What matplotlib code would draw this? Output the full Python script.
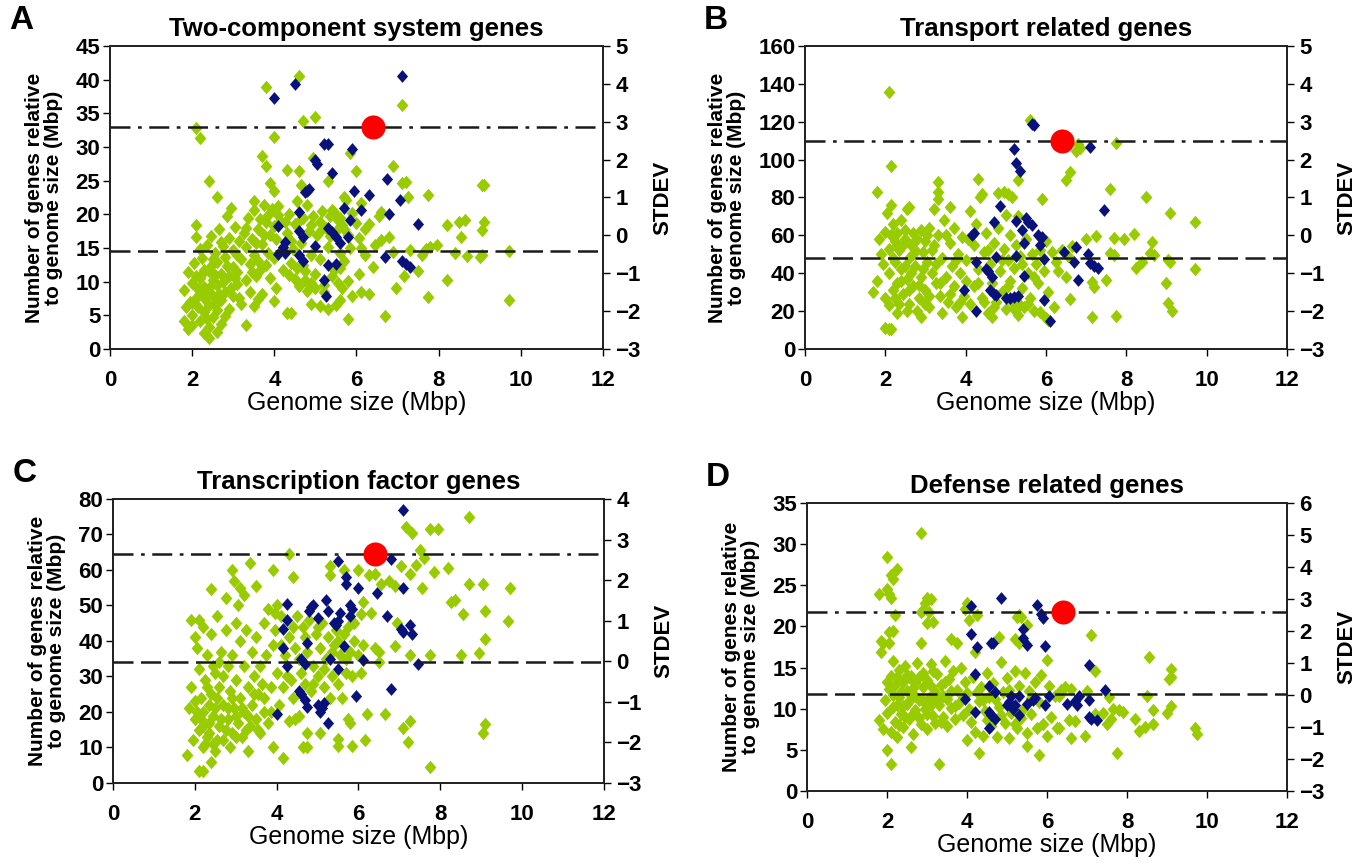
import matplotlib
matplotlib.use('Agg')
import matplotlib.pyplot as plt

plt.rcParams['font.family'] = ['Liberation Sans', 'DejaVu Sans']

GREEN = '#99cc00'
BLUE = '#08127a'
DIAMOND = [(-0.87, 0), (0, 1), (0.87, 0), (0, -1), (-0.87, 0)]  # slightly tall diamond

# ---------------- panel A: two-component system genes ----------------
a_green = [
    (4.6, 40.6), (3.8, 38.9), (7.1, 36.2), (5.0, 34.5), (4.7, 33.8), (2.1, 32.8), (2.2, 31.4), (4.0, 31.5),
    (3.7, 28.6), (5.85, 29.1), (4.95, 28.3), (3.8, 27.2), (6.9, 27.2), (4.3, 26.6), (4.6, 26.4), (6.0, 26.4),
    (2.4, 25.0), (5.3, 25.0), (7.1, 24.7), (7.2, 24.8), (9.1, 24.3), (9.05, 24.3), (3.9, 24.6), (4.0, 23.5),
    (4.65, 24.3), (5.7, 22.5), (2.6, 22.6), (7.75, 22.9), (7.25, 22.6), (3.5, 22.0), (8.2, 18.4), (8.5, 18.8),
    (8.65, 19.1), (9.1, 18.9), (9.05, 17.6), (8.55, 16.6), (9.7, 14.5), (9.05, 14.0), (9.0, 13.6), (8.7, 13.8),
    (8.4, 14.3), (7.8, 15.2), (7.95, 15.4), (7.7, 14.8), (7.6, 14.0), (7.3, 14.7), (7.15, 10.9), (7.5, 11.6),
    (6.95, 9.0), (8.2, 10.3), (7.75, 7.7), (9.7, 7.3), (6.7, 4.9), (5.8, 4.4), (6.3, 8.2), (6.1, 8.5),
    (5.9, 7.8), (6.45, 15.4), (6.6, 16.2), (6.55, 19.7), (6.6, 20.3), (6.8, 16.6), (6.9, 14.4), (6.3, 18.6),
    (6.2, 13.9), (6.4, 12.1), (6.05, 11.2), (5.7, 13.1), (5.6, 14.3), (6.1, 15.0), (5.8, 10.1), (5.65, 9.0),
    (5.5, 6.6), (5.6, 7.2), (5.3, 5.9), (4.4, 5.3), (4.3, 5.3), (4.9, 6.7), (5.1, 6.4), (4.0, 7.1),
    (3.6, 7.4), (3.3, 3.5), (2.4, 1.6), (2.3, 2.4), (2.6, 2.5), (1.9, 2.9), (1.8, 4.1), (2.0, 3.6),
    (1.8, 8.8), (1.9, 11.5), (1.95, 7.0), (2.0, 5.0), (2.0, 9.8), (2.05, 12.8), (2.1, 16.7), (2.1, 18.4),
    (2.15, 6.2), (2.2, 4.2), (2.2, 8.3), (2.2, 10.6), (2.25, 13.5), (2.3, 5.5), (2.3, 7.5), (2.3, 11.8),
    (2.35, 15.5), (2.4, 3.2), (2.4, 6.5), (2.4, 9.0), (2.45, 12.3), (2.45, 16.8), (2.5, 4.7), (2.5, 7.8),
    (2.5, 10.2), (2.55, 14.2), (2.6, 5.8), (2.6, 9.5), (2.6, 12.9), (2.65, 17.8), (2.7, 3.7), (2.7, 7.2),
    (2.7, 11.1), (2.75, 15.3), (2.8, 4.9), (2.8, 8.5), (2.8, 13.6), (2.85, 19.8), (2.9, 6.0), (2.9, 10.8),
    (2.9, 16.5), (2.95, 21.0), (3.0, 7.9), (3.0, 12.2), (3.0, 14.7), (3.05, 18.1), (3.1, 9.6), (3.1, 11.5),
    (3.15, 16.0), (3.2, 6.7), (3.2, 13.3), (3.25, 17.2), (3.3, 10.3), (3.3, 15.1), (3.35, 19.5), (3.4, 8.4),
    (3.4, 12.6), (3.45, 16.4), (3.5, 6.4), (3.5, 14.0), (3.5, 20.6), (3.55, 10.9), (3.6, 17.8), (3.6, 13.0),
    (3.65, 19.3), (3.7, 8.2), (3.7, 15.6), (3.75, 21.4), (3.8, 18.8), (3.8, 12.4), (3.85, 19.9), (3.9, 10.5),
    (3.9, 16.9), (3.95, 20.8), (4.0, 13.5), (4.0, 18.2), (4.05, 9.0), (4.1, 21.3), (4.15, 19.0), (4.2, 11.8),
    (4.3, 17.2), (4.35, 20.0), (4.4, 12.7), (4.45, 14.8), (4.5, 10.4), (4.5, 18.5), (4.55, 22.0), (4.6, 9.3),
    (4.65, 15.7), (4.7, 19.4), (4.75, 11.6), (4.8, 21.4), (4.85, 17.5), (4.9, 9.8), (4.9, 13.9), (4.95, 19.7),
    (5.0, 11.2), (5.05, 16.9), (5.1, 18.9), (5.1, 13.3), (5.15, 20.5), (5.2, 9.5), (5.25, 18.0), (5.3, 15.2),
    (5.35, 19.8), (5.4, 20.6), (5.45, 11.8), (5.5, 17.5), (5.55, 19.2), (5.6, 12.0), (5.65, 18.4), (5.75, 22.1),
    (5.8, 17.0), (5.85, 15.0), (5.9, 20.2), (6.0, 18.7), (6.05, 16.5), (6.1, 21.7), (6.2, 17.8), (5.2, 8.5),
    (4.8, 8.6), (4.7, 12.5), (2.1, 7.6), (2.35, 8.8), (2.55, 6.5), (2.25, 11.2), (2.75, 9.9), (3.05, 10.6),
    (2.0, 6.8), (2.1, 10.9), (2.2, 14.9), (2.3, 9.2), (2.35, 4.5), (2.5, 13.4), (2.55, 11.0), (2.65, 8.1),
    (2.7, 15.9), (2.85, 12.3), (2.95, 9.0), (3.1, 14.0), (3.15, 7.6), (3.3, 17.9), (3.45, 11.4), (3.55, 15.7),
    (3.65, 11.8), (3.75, 17.0), (3.85, 14.3), (4.05, 16.4), (4.1, 19.9), (4.25, 18.8), (4.4, 16.0), (4.6, 19.0),
    (4.9, 18.4), (5.15, 17.8), (5.35, 16.8), (5.45, 20.3), (5.6, 19.5), (5.7, 17.8), (4.35, 11.0), (4.55, 12.0),
    (4.75, 10.2), (5.0, 9.0), (5.4, 10.8), (5.55, 9.8), (2.15, 8.9), (2.4, 11.6), (2.6, 7.3), (1.85, 6.2),
]
a_blue = [
    (4.0, 37.3), (4.5, 39.3), (7.1, 40.6), (5.2, 30.5), (5.3, 30.5), (5.0, 28.0), (5.05, 27.5), (5.9, 29.7),
    (5.4, 26.1), (6.75, 25.2), (4.8, 23.5), (4.75, 23.3), (4.85, 23.8), (5.95, 23.4), (6.3, 22.8), (7.05, 22.1),
    (5.7, 20.9), (6.1, 20.7), (4.6, 20.4), (6.8, 20.1), (5.85, 19.1), (7.5, 18.6), (4.1, 18.3), (5.3, 17.9),
    (5.4, 17.4), (4.6, 17.5), (4.7, 16.6), (5.5, 16.6), (5.8, 16.6), (4.25, 15.9), (5.6, 15.8), (4.2, 15.1),
    (5.0, 15.3), (4.1, 14.1), (4.25, 14.2), (4.6, 13.9), (6.7, 13.7), (7.1, 13.1), (7.2, 12.6), (7.3, 12.2),
    (4.7, 13.0), (5.3, 12.5), (5.5, 12.6), (5.2, 10.2), (5.25, 7.9),
]
a_ref = (6.4, 33.0)
a_mean, a_high = 14.5, 33.0

# ---------------- panel B: transport related genes ----------------
b_green = [
    (2.1, 135.5), (5.6, 121), (6.85, 106), (6.8, 108), (6.75, 104.5), (7.75, 109), (2.15, 96.5), (6.6, 93.5),
    (6.5, 89), (5.3, 89), (3.3, 88), (4.3, 90), (7.6, 84.5), (1.8, 83), (8.5, 80), (5.9, 79),
    (4.4, 82), (4.8, 82.5), (4.95, 83), (5.05, 82), (5.15, 80.5), (9.1, 72), (9.7, 67), (8.2, 60.5),
    (7.95, 58), (7.7, 58.5), (7.25, 59.5), (7.0, 58), (6.65, 54.5), (7.6, 50.5), (7.7, 49.5), (8.65, 56.5),
    (8.6, 50.5), (8.7, 49.5), (8.4, 46), (8.25, 43), (9.05, 47), (9.1, 46), (9.7, 42), (9.0, 35),
    (9.05, 24.5), (9.15, 20), (7.75, 17.5), (7.15, 17), (7.15, 35.5), (7.2, 32.5), (7.5, 36.5), (6.6, 26.5),
    (6.2, 22), (6.0, 16.5), (6.05, 15.5), (2.0, 11), (2.1, 10.5), (2.15, 10.5), (5.85, 19.5), (5.35, 23),
    (1.7, 30), (1.8, 36), (1.85, 58), (1.9, 50), (1.95, 45), (2.0, 62), (2.0, 27), (2.05, 72),
    (2.1, 53), (2.1, 40), (2.1, 23), (2.15, 76), (2.2, 66), (2.2, 31), (2.25, 57), (2.25, 46),
    (2.3, 61), (2.3, 35), (2.3, 19), (2.35, 52), (2.4, 68), (2.4, 42), (2.45, 29), (2.5, 58),
    (2.5, 63), (2.55, 74), (2.55, 37), (2.6, 48), (2.6, 24), (2.65, 55), (2.7, 61), (2.7, 33),
    (2.75, 44), (2.8, 58), (2.8, 20), (2.85, 27), (2.9, 63), (2.9, 38), (2.95, 51), (3.0, 57),
    (3.0, 31), (3.05, 46), (3.1, 64), (3.1, 22), (3.15, 40), (3.2, 55), (3.2, 74), (3.25, 35),
    (3.3, 83), (3.3, 79), (3.3, 60), (3.35, 28), (3.4, 48), (3.45, 68), (3.5, 38), (3.55, 25),
    (3.6, 56), (3.6, 75), (3.65, 44), (3.7, 33), (3.7, 64), (3.75, 22), (3.8, 50), (3.85, 40),
    (3.9, 17), (3.9, 59), (3.95, 28), (4.0, 47), (4.0, 36), (4.1, 73), (4.1, 24), (4.2, 55),
    (4.2, 33), (4.25, 66), (4.3, 42), (4.35, 80), (4.4, 27), (4.45, 51), (4.5, 61), (4.55, 19),
    (4.6, 45), (4.65, 35), (4.65, 17), (4.7, 56), (4.75, 25), (4.8, 64), (4.85, 41), (4.9, 30),
    (4.95, 53), (5.0, 71), (5.0, 21), (5.05, 47), (5.1, 36), (5.1, 60), (5.15, 25), (5.2, 43),
    (5.25, 55), (5.3, 70), (5.3, 18), (5.35, 49), (5.4, 32), (5.45, 22), (5.5, 58), (5.55, 40),
    (5.6, 27), (5.65, 50), (5.7, 20), (5.75, 45), (5.8, 35), (5.85, 52), (5.95, 41), (6.0, 57),
    (6.05, 30), (6.15, 51), (6.25, 46), (6.3, 41), (6.4, 52), (6.5, 38), (6.55, 49), (2.6, 75),
    (2.9, 17), (3.4, 19), (2.35, 24), (2.2, 48), (2.45, 55), (2.75, 52), (3.05, 60), (2.65, 40),
    (2.15, 60), (2.3, 55), (2.4, 36), (2.5, 44), (2.6, 31), (2.7, 50), (2.85, 34), (2.95, 42),
    (3.1, 28), (3.15, 52), (3.25, 45), (3.35, 35), (3.5, 60), (3.6, 29), (3.75, 47), (3.85, 25),
    (4.05, 58), (4.3, 35), (4.45, 25), (4.55, 52), (4.7, 22), (4.9, 47), (5.05, 33), (5.2, 21),
    (5.4, 45), (5.55, 24), (5.7, 38), (2.25, 27), (2.55, 20), (3.0, 24),
]
b_blue = [
    (5.65, 119), (5.7, 118.5), (7.1, 106.5), (5.2, 105.5), (5.25, 98), (5.35, 94), (4.85, 75.5), (7.45, 73.5),
    (4.7, 67), (5.25, 67.5), (5.5, 69), (5.55, 67), (5.65, 65.5), (5.4, 63), (4.15, 60), (4.2, 61),
    (5.8, 60), (5.9, 59), (5.45, 56), (5.85, 55), (6.75, 54), (6.45, 51), (7.05, 50), (5.25, 49),
    (4.75, 48.5), (5.95, 47.5), (4.25, 46), (7.1, 45.5), (6.7, 46), (7.2, 44), (7.3, 42.5), (4.5, 42),
    (4.55, 41), (4.65, 38), (5.45, 38.5), (6.8, 36.5), (3.95, 31), (4.6, 31), (4.7, 29), (4.75, 28.5),
    (5.0, 27), (5.1, 27), (5.2, 27.5), (5.3, 28), (5.95, 26), (4.25, 20), (6.1, 15),
]
b_ref = (6.4, 110.0)
b_mean, b_high = 48.0, 110.0

# ---------------- panel C: transcription factor genes ----------------
c_green = [
    (8.7, 75), (7.15, 72), (7.75, 71.5), (7.95, 71.5), (7.3, 70.5), (7.5, 65.5), (7.6, 63.5), (7.05, 61),
    (7.4, 61.5), (8.2, 60.5), (7.85, 59.5), (7.25, 59), (8.7, 56), (9.05, 56), (9.7, 55), (7.55, 55),
    (8.35, 51.5), (8.25, 51), (8.55, 47.5), (9.1, 48.5), (9.65, 45.5), (6.95, 45), (9.1, 40.5), (7.25, 36),
    (7.75, 36), (8.5, 36), (8.95, 36.5), (6.9, 38.5), (6.4, 38), (6.5, 37), (6.5, 34), (9.1, 16.5),
    (9.05, 14), (7.75, 4.5), (7.2, 11.5), (7.25, 17.5), (7.1, 15.5), (6.65, 19.5), (6.2, 19.5), (6.15, 12),
    (5.85, 10.5), (5.5, 10.5), (5.5, 12.5), (5.75, 18), (5.8, 17), (4.75, 14), (5.05, 14), (4.65, 10),
    (4.75, 10), (4.15, 7), (4.3, 17.5), (4.45, 18), (3.3, 9), (2.1, 3.5), (2.2, 3.5), (2.4, 6),
    (4.3, 64.5), (5.3, 61), (5.3, 58.5), (5.65, 60), (6.0, 60), (2.9, 60), (3.35, 62), (3.9, 60),
    (4.4, 58), (2.95, 57), (3.1, 55), (3.5, 55.5), (2.4, 54.5), (2.75, 52), (3.2, 53), (3.05, 50),
    (6.4, 59), (6.55, 56), (6.75, 57), (6.9, 55.5), (6.25, 58.5), (6.1, 51), (6.05, 47.5), (5.9, 45),
    (6.3, 48), (1.8, 8), (1.85, 21), (1.9, 27), (1.9, 46), (1.95, 12), (2.0, 41), (2.0, 18),
    (2.05, 38), (2.1, 15), (2.1, 32), (2.1, 46), (2.15, 24), (2.2, 10), (2.2, 44), (2.2, 20),
    (2.25, 29), (2.3, 13), (2.3, 36), (2.35, 17), (2.4, 25), (2.4, 42), (2.45, 11), (2.5, 21),
    (2.5, 31), (2.55, 47), (2.6, 16), (2.6, 27), (2.65, 37), (2.7, 12), (2.7, 22), (2.75, 43),
    (2.8, 18), (2.8, 33), (2.85, 26), (2.9, 14), (2.9, 36), (2.95, 21), (3.0, 45), (3.0, 29),
    (3.05, 17), (3.1, 40), (3.1, 24), (3.15, 13), (3.2, 33), (3.2, 20), (3.25, 43), (3.3, 27),
    (3.35, 16), (3.4, 37), (3.4, 22), (3.45, 30), (3.5, 18), (3.5, 41), (3.55, 25), (3.6, 14),
    (3.6, 33), (3.65, 28), (3.7, 20), (3.7, 45), (3.75, 36), (3.8, 17), (3.8, 49), (3.85, 27),
    (3.9, 39), (3.9, 10), (3.95, 48), (4.0, 31), (4.0, 50), (4.05, 22), (4.1, 47), (4.15, 27),
    (4.2, 36), (4.3, 41), (4.35, 29), (4.4, 24), (4.45, 38), (4.5, 47), (4.55, 19), (4.6, 31),
    (4.65, 44), (4.7, 28), (4.75, 37), (4.8, 46), (4.85, 26), (4.9, 33), (4.95, 42), (5.0, 30),
    (5.05, 38), (5.1, 45), (5.15, 27), (5.2, 35), (5.25, 41), (5.3, 24), (5.35, 30), (5.4, 39),
    (5.45, 43), (5.5, 28), (5.55, 36), (5.6, 24), (5.65, 42), (5.7, 31), (5.75, 44), (5.8, 37),
    (5.85, 30), (5.9, 40), (6.0, 36), (6.05, 31), (6.1, 39), (2.05, 20), (2.3, 27), (2.6, 34),
    (2.45, 19), (2.7, 30), (2.15, 18), (2.35, 14), (2.55, 12), (3.0, 19), (3.25, 15), (2.85, 10),
    (2.0, 23), (2.2, 16), (2.35, 22), (2.45, 33), (2.55, 24), (2.65, 18), (2.75, 15), (2.9, 24),
    (3.0, 13), (3.15, 21), (3.3, 19), (3.45, 25), (3.55, 15), (3.7, 24), (3.85, 20), (3.95, 43),
    (4.1, 39), (4.25, 30), (4.4, 44), (4.55, 35), (4.7, 41), (4.9, 28), (5.0, 44), (5.15, 32),
    (5.35, 37), (5.5, 40), (5.7, 35), (2.25, 11), (2.5, 9), (2.8, 21),
]
c_blue = [
    (7.1, 77), (5.5, 62.5), (6.8, 63), (5.7, 58), (5.7, 56), (6.0, 55), (7.1, 55), (6.45, 53.5),
    (5.8, 50), (5.85, 49), (4.25, 50.5), (4.85, 49.5), (4.9, 50), (4.8, 48.5), (5.2, 51.5), (5.25, 48.5),
    (5.0, 46.5), (5.55, 48), (5.4, 45), (5.5, 45.5), (5.45, 44.5), (5.8, 47), (6.7, 47), (4.25, 46),
    (4.15, 43.5), (7.05, 43.5), (7.1, 42.5), (7.25, 44.5), (7.3, 42), (4.75, 39.5), (4.15, 38), (5.65, 38.5),
    (4.6, 35), (5.3, 35), (4.7, 33.5), (6.1, 34.5), (7.45, 33.5), (4.25, 33), (5.5, 32), (6.8, 26.5),
    (4.55, 26), (4.6, 25), (4.7, 23.5), (5.0, 22), (5.05, 20), (5.1, 21), (5.15, 22.5), (4.75, 21.5),
    (5.95, 24.5), (4.0, 19.5), (5.25, 17),
]
c_ref = (6.4, 64.5)
c_mean, c_high = 34.0, 64.5

# ---------------- panel D: defense related genes ----------------
d_green = [
    (2.85, 31.3), (2.0, 28.4), (2.25, 27.0), (2.1, 26.2), (2.15, 25.8), (2.0, 24.5), (1.8, 23.9), (2.05, 23.9),
    (2.1, 23.4), (3.0, 23.4), (3.1, 23.3), (2.95, 22.8), (2.85, 21.8), (2.9, 22.0), (2.2, 21.4), (3.05, 21.8),
    (3.95, 22.1), (4.0, 22.8), (4.25, 21.4), (4.05, 20.8), (3.0, 20.4), (3.15, 20.5), (5.3, 21.4), (5.35, 21.1),
    (5.25, 21.1), (5.5, 20.2), (2.05, 19.3), (2.15, 19.5), (1.85, 18.2), (1.9, 18.0), (2.05, 18.0), (2.85, 18.0),
    (3.6, 18.5), (3.75, 18.0), (4.8, 18.7), (5.2, 18.5), (5.3, 18.0), (7.1, 19.0), (8.55, 16.3), (9.1, 14.8),
    (9.05, 13.6), (9.1, 13.9), (7.2, 14.6), (6.0, 15.9), (1.85, 16.9), (4.2, 16.9), (2.0, 5.0), (2.1, 3.3),
    (3.3, 3.3), (2.6, 5.3), (4.3, 4.6), (5.8, 4.4), (5.5, 5.5), (7.75, 4.6), (9.7, 7.6), (9.75, 6.9),
    (8.3, 7.3), (8.45, 7.8), (8.65, 8.2), (8.2, 8.8), (8.65, 9.9), (9.0, 9.5), (9.1, 10.3), (8.5, 11.5),
    (7.8, 9.8), (7.9, 9.6), (7.6, 8.8), (7.5, 8.2), (7.2, 9.3), (6.95, 6.7), (6.6, 6.5), (6.3, 7.6),
    (6.55, 8.6), (6.7, 8.5), (6.35, 12.3), (6.45, 12.6), (6.3, 11.5), (6.6, 12.4), (7.0, 12.2), (7.55, 11.4),
    (7.65, 10.0), (7.4, 9.5), (1.8, 8.6), (1.9, 7.5), (1.95, 11.0), (2.0, 9.5), (2.05, 12.4), (2.1, 7.2),
    (2.1, 14.0), (2.15, 10.2), (2.15, 15.8), (2.2, 8.4), (2.2, 12.9), (2.25, 6.6), (2.3, 11.4), (2.3, 14.7),
    (2.35, 9.3), (2.4, 13.3), (2.4, 7.8), (2.45, 15.2), (2.5, 10.6), (2.5, 12.2), (2.55, 8.7), (2.6, 14.0),
    (2.6, 11.7), (2.65, 6.9), (2.7, 13.1), (2.7, 9.8), (2.75, 15.6), (2.8, 11.0), (2.85, 8.2), (2.9, 12.6),
    (2.9, 14.3), (2.95, 10.0), (3.0, 7.5), (3.0, 13.5), (3.05, 11.3), (3.1, 15.4), (3.15, 9.1), (3.2, 12.0),
    (3.2, 8.3), (3.25, 14.2), (3.3, 10.4), (3.35, 12.9), (3.4, 9.0), (3.45, 15.8), (3.5, 11.2), (3.5, 7.9),
    (3.55, 13.6), (3.6, 10.1), (3.65, 14.6), (3.7, 8.7), (3.75, 12.3), (3.8, 10.7), (3.85, 15.0), (3.9, 9.2),
    (3.95, 13.2), (4.0, 6.2), (4.0, 11.9), (4.1, 8.4), (4.15, 13.8), (4.2, 7.2), (4.3, 10.9), (4.35, 12.6),
    (4.4, 6.7), (4.45, 9.7), (4.5, 14.4), (4.55, 11.4), (4.6, 7.9), (4.65, 13.1), (4.75, 6.6), (4.8, 10.2),
    (4.85, 15.7), (4.9, 12.0), (4.95, 8.3), (5.0, 13.7), (5.05, 6.5), (5.1, 9.5), (5.2, 14.6), (5.25, 7.6),
    (5.3, 12.8), (5.35, 8.9), (5.45, 14.3), (5.5, 7.0), (5.55, 12.2), (5.6, 9.4), (5.7, 13.3), (5.75, 7.6),
    (5.8, 10.8), (5.85, 14.1), (5.9, 8.2), (6.0, 6.7), (6.05, 12.7), (6.1, 9.0), (6.2, 11.6), (6.25, 7.6),
    (2.35, 12.0), (2.55, 13.8), (2.25, 10.5), (2.45, 9.0), (2.8, 13.9), (2.65, 12.5), (3.1, 12.8), (3.4, 11.6),
    (2.0, 13.3), (2.15, 11.7), (2.3, 8.0), (2.4, 10.3), (2.5, 14.1), (2.6, 9.1), (2.7, 11.6), (2.8, 8.9),
    (2.9, 10.9), (3.0, 9.3), (3.1, 10.4), (3.25, 11.0), (3.35, 8.4), (3.45, 13.2), (3.6, 12.1), (3.7, 10.3),
    (3.9, 11.4), (4.05, 10.0), (4.25, 12.0), (4.4, 11.0), (4.5, 8.6), (4.7, 11.2), (4.85, 9.2), (5.05, 12.3),
    (5.2, 8.2), (5.4, 10.0), (5.6, 11.3), (2.25, 13.9), (2.55, 10.9), (3.15, 14.6),
]
d_blue = [
    (4.85, 23.4), (5.75, 22.6), (4.1, 22.5), (5.85, 21.5), (5.9, 21.0), (5.4, 19.7), (4.1, 19.1), (5.4, 18.6),
    (4.25, 17.5), (4.6, 18.0), (4.65, 18.0), (5.5, 17.7), (5.95, 17.6), (7.05, 15.3), (4.2, 14.2), (7.45, 12.3),
    (4.55, 12.8), (4.7, 12.0), (5.1, 11.6), (5.3, 11.5), (6.05, 11.6), (6.8, 11.6), (3.95, 11.2), (5.05, 10.8),
    (5.2, 10.4), (5.5, 10.6), (5.65, 11.0), (5.7, 11.3), (6.5, 10.6), (6.75, 10.4), (6.7, 10.9), (7.05, 11.1),
    (5.0, 10.5), (5.15, 10.0), (5.3, 9.2), (4.2, 9.6), (4.55, 9.6), (4.6, 9.2), (4.7, 8.7), (7.1, 8.8),
    (7.05, 9.0), (7.25, 8.6), (5.95, 10.4), (4.55, 7.6),
]
d_ref = (6.4, 21.7)
d_mean, d_high = 11.8, 21.7

panels = [
    ('A', 'Two-component system genes', a_green, a_blue, a_ref, a_mean, a_high, (0, 45, 5), (-3, 5),
     [0.0807, 0.5961, 0.3617, 0.3507]),
    ('B', 'Transport related genes', b_green, b_blue, b_ref, b_mean, b_high, (0, 160, 20), (-3, 5),
     [0.5906, 0.5961, 0.3536, 0.3507]),
    ('C', 'Transcription factor genes', c_green, c_blue, c_ref, c_mean, c_high, (0, 80, 10), (-3, 4),
     [0.0829, 0.0938, 0.3602, 0.3287]),
    ('D', 'Defense related genes', d_green, d_blue, d_ref, d_mean, d_high, (0, 35, 5), (-3, 6),
     [0.5921, 0.0845, 0.3521, 0.3333]),
]

fig = plt.figure(figsize=(13.63, 8.64), dpi=100)

for letter, title, green, blue, ref, mean, high, ylim, slim, pos in panels:
    ax = fig.add_axes(pos)
    gx, gy = zip(*green)
    bx, by = zip(*blue)
    ax.scatter(gx, gy, marker=DIAMOND, s=95, color=GREEN, linewidths=0, zorder=2)
    ax.scatter(bx, by, marker=DIAMOND, s=85, color=BLUE, linewidths=0, zorder=3)
    ax.axhline(high, color='#1a1a1a', lw=1.8, dashes=(8, 3, 1.5, 3), zorder=4)
    ax.axhline(mean, color='#1a1a1a', lw=1.8, dashes=(8, 3), zorder=4)
    ax.scatter([ref[0]], [ref[1]], marker='o', s=300, color='#ff0000', linewidths=0, zorder=5)

    ax.set_xlim(0, 12)
    ax.set_ylim(ylim[0], ylim[1])
    ax.set_xticks(range(0, 13, 2))
    ax.set_yticks(range(ylim[0], ylim[1] + 1, ylim[2]))
    ax.tick_params(direction='out', length=5, width=1, labelsize=16)
    ax.tick_params(axis='x', pad=10)
    ax.tick_params(axis='y', pad=2)
    for lab in ax.get_xticklabels() + ax.get_yticklabels():
        lab.set_fontweight('bold')
    for sp in ax.spines.values():
        sp.set_linewidth(1.3)
        sp.set_color('#222222')
    ax.set_xlabel('Genome size (Mbp)', fontsize=18, labelpad=0)
    ax.set_ylabel('Number of genes relative\nto genome size (Mbp)', fontsize=15,
                  fontweight='bold', linespacing=1.0, labelpad=9)
    ax.set_title(title, fontsize=18.5, fontweight='bold', pad=7)

    ax2 = ax.twinx()
    ax2.set_ylim(slim[0], slim[1])
    ax2.set_yticks(range(slim[0], slim[1] + 1))
    ax2.tick_params(direction='out', length=5, width=1, labelsize=16, pad=4)
    for lab in ax2.get_yticklabels():
        lab.set_fontweight('bold')
    for sp in ax2.spines.values():
        sp.set_linewidth(1.3)
        sp.set_color('#222222')
    ax2.set_ylabel('STDEV', fontsize=16, fontweight='bold', labelpad=8)

    fig.text(pos[0] - 0.074, pos[1] + pos[3] + 0.030, letter, fontsize=24,
             fontweight='bold', va='center', ha='left')

fig.savefig('out.png', dpi=100)
